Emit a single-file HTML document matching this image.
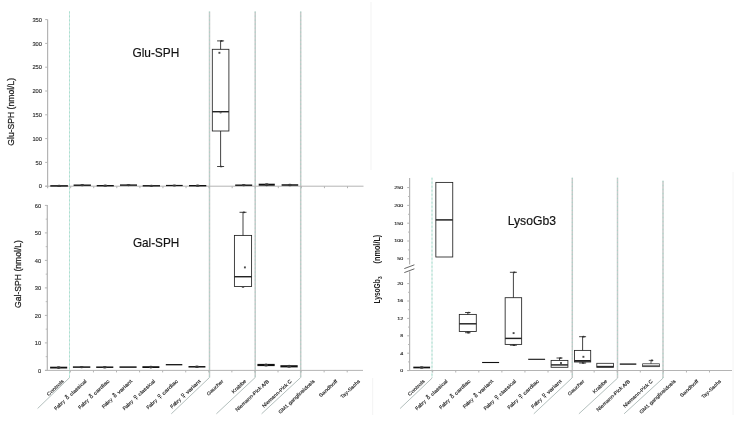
<!DOCTYPE html>
<html><head><meta charset="utf-8"><title>Chart</title>
<style>html,body{margin:0;padding:0;background:#fff;font-family:"Liberation Sans",sans-serif;}svg{display:block;filter:blur(0.35px);}</style></head>
<body>
<svg width="750" height="421" viewBox="0 0 750 421" font-family="'Liberation Sans', sans-serif">
<rect width="750" height="421" fill="#fff"/>
<line x1="371.00" y1="2.00" x2="371.00" y2="170.00" stroke="#f3f3f3" stroke-width="1" />
<line x1="372.70" y1="378.00" x2="372.70" y2="415.00" stroke="#f3f3f3" stroke-width="1" />
<line x1="733.00" y1="172.00" x2="733.00" y2="415.00" stroke="#f4f4f4" stroke-width="1" />
<line x1="69.50" y1="11.40" x2="69.50" y2="377.50" stroke="#d9ebe6" stroke-width="1.0" />
<line x1="69.50" y1="11.40" x2="69.50" y2="377.50" stroke="#a9e0d0" stroke-width="1.0" stroke-dasharray="2 2"/>
<line x1="209.50" y1="11.40" x2="209.50" y2="377.50" stroke="#c9c9c9" stroke-width="1.5" />
<line x1="209.50" y1="11.40" x2="209.50" y2="377.50" stroke="#8fdcc6" stroke-width="1.1" stroke-dasharray="1.4 2.6" opacity="0.55"/>
<line x1="255.20" y1="11.40" x2="255.20" y2="377.50" stroke="#c9c9c9" stroke-width="1.5" />
<line x1="255.20" y1="11.40" x2="255.20" y2="377.50" stroke="#8fdcc6" stroke-width="1.1" stroke-dasharray="1.4 2.6" opacity="0.55"/>
<line x1="300.70" y1="11.40" x2="300.70" y2="377.50" stroke="#c9c9c9" stroke-width="1.5" />
<line x1="300.70" y1="11.40" x2="300.70" y2="377.50" stroke="#8fdcc6" stroke-width="1.1" stroke-dasharray="1.4 2.6" opacity="0.55"/>
<line x1="69.70" y1="377.50" x2="37.60" y2="408.50" stroke="#b3bfbd" stroke-width="1.0" />
<line x1="209.50" y1="377.50" x2="171.30" y2="413.80" stroke="#b3bfbd" stroke-width="1.0" />
<line x1="255.20" y1="377.50" x2="216.40" y2="413.80" stroke="#b3bfbd" stroke-width="1.0" />
<line x1="300.70" y1="377.50" x2="261.60" y2="413.80" stroke="#b3bfbd" stroke-width="1.0" />
<line x1="432.00" y1="177.70" x2="432.00" y2="378.00" stroke="#d9ebe6" stroke-width="1.0" />
<line x1="432.00" y1="177.70" x2="432.00" y2="378.00" stroke="#a9e0d0" stroke-width="1.0" stroke-dasharray="2 2"/>
<line x1="572.30" y1="177.70" x2="572.30" y2="378.00" stroke="#c9c9c9" stroke-width="1.5" />
<line x1="572.30" y1="177.70" x2="572.30" y2="378.00" stroke="#8fdcc6" stroke-width="1.1" stroke-dasharray="1.4 2.6" opacity="0.55"/>
<line x1="617.50" y1="177.70" x2="617.50" y2="378.00" stroke="#c9c9c9" stroke-width="1.5" />
<line x1="617.50" y1="177.70" x2="617.50" y2="378.00" stroke="#8fdcc6" stroke-width="1.1" stroke-dasharray="1.4 2.6" opacity="0.55"/>
<line x1="663.00" y1="180.80" x2="663.00" y2="378.00" stroke="#c9c9c9" stroke-width="1.5" />
<line x1="663.00" y1="180.80" x2="663.00" y2="378.00" stroke="#8fdcc6" stroke-width="1.1" stroke-dasharray="1.4 2.6" opacity="0.55"/>
<line x1="432.20" y1="378.00" x2="400.10" y2="408.50" stroke="#b3bfbd" stroke-width="1.0" />
<line x1="572.00" y1="378.00" x2="533.80" y2="413.80" stroke="#b3bfbd" stroke-width="1.0" />
<line x1="617.70" y1="378.00" x2="578.90" y2="413.80" stroke="#b3bfbd" stroke-width="1.0" />
<line x1="663.20" y1="378.00" x2="624.10" y2="413.80" stroke="#b3bfbd" stroke-width="1.0" />
<line x1="47.60" y1="19.50" x2="47.60" y2="188.20" stroke="#b4b4b4" stroke-width="1.2" />
<line x1="45.20" y1="186.20" x2="47.60" y2="186.20" stroke="#b4b4b4" stroke-width="1" />
<line x1="45.20" y1="162.40" x2="47.60" y2="162.40" stroke="#b4b4b4" stroke-width="1" />
<line x1="45.20" y1="138.60" x2="47.60" y2="138.60" stroke="#b4b4b4" stroke-width="1" />
<line x1="45.20" y1="114.80" x2="47.60" y2="114.80" stroke="#b4b4b4" stroke-width="1" />
<line x1="45.20" y1="91.00" x2="47.60" y2="91.00" stroke="#b4b4b4" stroke-width="1" />
<line x1="45.20" y1="67.20" x2="47.60" y2="67.20" stroke="#b4b4b4" stroke-width="1" />
<line x1="45.20" y1="43.40" x2="47.60" y2="43.40" stroke="#b4b4b4" stroke-width="1" />
<line x1="45.20" y1="19.60" x2="47.60" y2="19.60" stroke="#b4b4b4" stroke-width="1" />
<line x1="45.40" y1="186.20" x2="363.50" y2="186.20" stroke="#b4b4b4" stroke-width="1.0" />
<line x1="70.67" y1="186.20" x2="70.67" y2="188.20" stroke="#b4b4b4" stroke-width="1" />
<line x1="93.74" y1="186.20" x2="93.74" y2="188.20" stroke="#b4b4b4" stroke-width="1" />
<line x1="116.81" y1="186.20" x2="116.81" y2="188.20" stroke="#b4b4b4" stroke-width="1" />
<line x1="139.88" y1="186.20" x2="139.88" y2="188.20" stroke="#b4b4b4" stroke-width="1" />
<line x1="162.95" y1="186.20" x2="162.95" y2="188.20" stroke="#b4b4b4" stroke-width="1" />
<line x1="186.02" y1="186.20" x2="186.02" y2="188.20" stroke="#b4b4b4" stroke-width="1" />
<line x1="209.09" y1="186.20" x2="209.09" y2="188.20" stroke="#b4b4b4" stroke-width="1" />
<line x1="232.16" y1="186.20" x2="232.16" y2="188.20" stroke="#b4b4b4" stroke-width="1" />
<line x1="255.23" y1="186.20" x2="255.23" y2="188.20" stroke="#b4b4b4" stroke-width="1" />
<line x1="278.30" y1="186.20" x2="278.30" y2="188.20" stroke="#b4b4b4" stroke-width="1" />
<line x1="301.37" y1="186.20" x2="301.37" y2="188.20" stroke="#b4b4b4" stroke-width="1" />
<line x1="324.44" y1="186.20" x2="324.44" y2="188.20" stroke="#b4b4b4" stroke-width="1" />
<line x1="347.51" y1="186.20" x2="347.51" y2="188.20" stroke="#b4b4b4" stroke-width="1" />
<text x="42.00" y="188.40" font-size="5.4" text-anchor="end" fill="#2a2a2a" textLength="3.20" lengthAdjust="spacingAndGlyphs"  stroke="#2a2a2a" stroke-width="0.12">0</text>
<text x="42.00" y="164.60" font-size="5.4" text-anchor="end" fill="#2a2a2a" textLength="6.40" lengthAdjust="spacingAndGlyphs"  stroke="#2a2a2a" stroke-width="0.12">50</text>
<text x="42.00" y="140.80" font-size="5.4" text-anchor="end" fill="#2a2a2a" textLength="9.60" lengthAdjust="spacingAndGlyphs"  stroke="#2a2a2a" stroke-width="0.12">100</text>
<text x="42.00" y="117.00" font-size="5.4" text-anchor="end" fill="#2a2a2a" textLength="9.60" lengthAdjust="spacingAndGlyphs"  stroke="#2a2a2a" stroke-width="0.12">150</text>
<text x="42.00" y="93.20" font-size="5.4" text-anchor="end" fill="#2a2a2a" textLength="9.60" lengthAdjust="spacingAndGlyphs"  stroke="#2a2a2a" stroke-width="0.12">200</text>
<text x="42.00" y="69.40" font-size="5.4" text-anchor="end" fill="#2a2a2a" textLength="9.60" lengthAdjust="spacingAndGlyphs"  stroke="#2a2a2a" stroke-width="0.12">250</text>
<text x="42.00" y="45.60" font-size="5.4" text-anchor="end" fill="#2a2a2a" textLength="9.60" lengthAdjust="spacingAndGlyphs"  stroke="#2a2a2a" stroke-width="0.12">300</text>
<text x="42.00" y="21.80" font-size="5.4" text-anchor="end" fill="#2a2a2a" textLength="9.60" lengthAdjust="spacingAndGlyphs"  stroke="#2a2a2a" stroke-width="0.12">350</text>
<g transform="translate(14.4,111.8) rotate(-90)">
<text x="0.00" y="0.00" font-size="9.4" text-anchor="middle" fill="#1c1c1c" textLength="67.80" lengthAdjust="spacingAndGlyphs"  stroke="#1c1c1c" stroke-width="0.25">Glu-SPH (nmol/L)</text>
</g>
<text x="132.40" y="57.40" font-size="13.4" text-anchor="start" fill="#111" textLength="46.90" lengthAdjust="spacingAndGlyphs"  stroke="#111" stroke-width="0.18">Glu-SPH</text>
<line x1="50.30" y1="185.90" x2="67.90" y2="185.90" stroke="#111" stroke-width="1.5" />
<ellipse cx="59.10" cy="185.90" rx="2.0" ry="1.20" fill="#3a3a3a"/>
<line x1="73.60" y1="185.20" x2="90.90" y2="185.20" stroke="#111" stroke-width="1.4" />
<ellipse cx="82.25" cy="185.20" rx="2.0" ry="1.15" fill="#3a3a3a"/>
<line x1="96.70" y1="185.70" x2="113.80" y2="185.70" stroke="#111" stroke-width="1.4" />
<ellipse cx="105.25" cy="185.70" rx="2.0" ry="1.15" fill="#3a3a3a"/>
<line x1="120.00" y1="185.10" x2="137.00" y2="185.10" stroke="#111" stroke-width="1.4" />
<ellipse cx="128.50" cy="185.10" rx="2.0" ry="1.15" fill="#3a3a3a"/>
<line x1="142.70" y1="185.80" x2="160.00" y2="185.80" stroke="#111" stroke-width="1.4" />
<ellipse cx="151.35" cy="185.80" rx="2.0" ry="1.15" fill="#3a3a3a"/>
<line x1="166.00" y1="185.50" x2="182.70" y2="185.50" stroke="#111" stroke-width="1.2" />
<ellipse cx="174.35" cy="185.50" rx="2.0" ry="1.05" fill="#3a3a3a"/>
<line x1="189.00" y1="185.70" x2="206.30" y2="185.70" stroke="#111" stroke-width="1.4" />
<ellipse cx="197.65" cy="185.70" rx="2.0" ry="1.15" fill="#3a3a3a"/>
<rect x="212.30" y="49.30" width="16.60" height="81.70" fill="#fff" stroke="#222" stroke-width="0.85"/>
<line x1="212.30" y1="111.70" x2="228.90" y2="111.70" stroke="#222" stroke-width="1.45" />
<line x1="220.60" y1="40.90" x2="220.60" y2="49.30" stroke="#222" stroke-width="0.85" />
<line x1="217.10" y1="40.90" x2="224.10" y2="40.90" stroke="#222" stroke-width="0.85" />
<ellipse cx="221.50" cy="40.90" rx="1.3" ry="0.85" fill="#333"/>
<line x1="220.60" y1="131.00" x2="220.60" y2="166.50" stroke="#222" stroke-width="0.85" />
<line x1="217.10" y1="166.50" x2="224.10" y2="166.50" stroke="#222" stroke-width="0.85" />
<ellipse cx="221.20" cy="166.50" rx="1.3" ry="0.85" fill="#333"/>
<rect x="218.45" y="51.85" width="1.9" height="1.9" fill="#4a4a4a"/>
<ellipse cx="220.6" cy="112.6" rx="1.2" ry="0.9" fill="#666"/>
<line x1="235.20" y1="185.20" x2="252.20" y2="185.20" stroke="#111" stroke-width="1.4" />
<ellipse cx="243.70" cy="185.20" rx="2.0" ry="1.15" fill="#3a3a3a"/>
<line x1="258.70" y1="184.70" x2="274.80" y2="184.70" stroke="#111" stroke-width="2.0" />
<ellipse cx="266.75" cy="184.70" rx="2.0" ry="1.45" fill="#3a3a3a"/>
<line x1="281.60" y1="185.00" x2="298.20" y2="185.00" stroke="#111" stroke-width="1.5" />
<ellipse cx="289.90" cy="185.00" rx="2.0" ry="1.20" fill="#3a3a3a"/>
<line x1="47.30" y1="205.00" x2="47.30" y2="370.40" stroke="#b4b4b4" stroke-width="1.2" />
<line x1="44.90" y1="370.40" x2="47.30" y2="370.40" stroke="#b4b4b4" stroke-width="1" />
<line x1="44.90" y1="342.90" x2="47.30" y2="342.90" stroke="#b4b4b4" stroke-width="1" />
<line x1="44.90" y1="315.40" x2="47.30" y2="315.40" stroke="#b4b4b4" stroke-width="1" />
<line x1="44.90" y1="287.90" x2="47.30" y2="287.90" stroke="#b4b4b4" stroke-width="1" />
<line x1="44.90" y1="260.40" x2="47.30" y2="260.40" stroke="#b4b4b4" stroke-width="1" />
<line x1="44.90" y1="232.90" x2="47.30" y2="232.90" stroke="#b4b4b4" stroke-width="1" />
<line x1="44.90" y1="205.40" x2="47.30" y2="205.40" stroke="#b4b4b4" stroke-width="1" />
<line x1="45.70" y1="356.65" x2="47.30" y2="356.65" stroke="#b4b4b4" stroke-width="0.9" />
<line x1="45.70" y1="329.15" x2="47.30" y2="329.15" stroke="#b4b4b4" stroke-width="0.9" />
<line x1="45.70" y1="301.65" x2="47.30" y2="301.65" stroke="#b4b4b4" stroke-width="0.9" />
<line x1="45.70" y1="274.15" x2="47.30" y2="274.15" stroke="#b4b4b4" stroke-width="0.9" />
<line x1="45.70" y1="246.65" x2="47.30" y2="246.65" stroke="#b4b4b4" stroke-width="0.9" />
<line x1="45.70" y1="219.15" x2="47.30" y2="219.15" stroke="#b4b4b4" stroke-width="0.9" />
<line x1="45.10" y1="370.40" x2="363.00" y2="370.40" stroke="#b4b4b4" stroke-width="1.0" />
<line x1="70.37" y1="370.40" x2="70.37" y2="372.40" stroke="#b4b4b4" stroke-width="1" />
<line x1="93.44" y1="370.40" x2="93.44" y2="372.40" stroke="#b4b4b4" stroke-width="1" />
<line x1="116.51" y1="370.40" x2="116.51" y2="372.40" stroke="#b4b4b4" stroke-width="1" />
<line x1="139.58" y1="370.40" x2="139.58" y2="372.40" stroke="#b4b4b4" stroke-width="1" />
<line x1="162.65" y1="370.40" x2="162.65" y2="372.40" stroke="#b4b4b4" stroke-width="1" />
<line x1="185.72" y1="370.40" x2="185.72" y2="372.40" stroke="#b4b4b4" stroke-width="1" />
<line x1="208.79" y1="370.40" x2="208.79" y2="372.40" stroke="#b4b4b4" stroke-width="1" />
<line x1="231.86" y1="370.40" x2="231.86" y2="372.40" stroke="#b4b4b4" stroke-width="1" />
<line x1="254.93" y1="370.40" x2="254.93" y2="372.40" stroke="#b4b4b4" stroke-width="1" />
<line x1="278.00" y1="370.40" x2="278.00" y2="372.40" stroke="#b4b4b4" stroke-width="1" />
<line x1="301.07" y1="370.40" x2="301.07" y2="372.40" stroke="#b4b4b4" stroke-width="1" />
<line x1="324.14" y1="370.40" x2="324.14" y2="372.40" stroke="#b4b4b4" stroke-width="1" />
<line x1="347.21" y1="370.40" x2="347.21" y2="372.40" stroke="#b4b4b4" stroke-width="1" />
<text x="41.20" y="372.60" font-size="5.4" text-anchor="end" fill="#2a2a2a" textLength="3.20" lengthAdjust="spacingAndGlyphs"  stroke="#2a2a2a" stroke-width="0.12">0</text>
<text x="41.20" y="345.10" font-size="5.4" text-anchor="end" fill="#2a2a2a" textLength="6.40" lengthAdjust="spacingAndGlyphs"  stroke="#2a2a2a" stroke-width="0.12">10</text>
<text x="41.20" y="317.60" font-size="5.4" text-anchor="end" fill="#2a2a2a" textLength="6.40" lengthAdjust="spacingAndGlyphs"  stroke="#2a2a2a" stroke-width="0.12">20</text>
<text x="41.20" y="290.10" font-size="5.4" text-anchor="end" fill="#2a2a2a" textLength="6.40" lengthAdjust="spacingAndGlyphs"  stroke="#2a2a2a" stroke-width="0.12">30</text>
<text x="41.20" y="262.60" font-size="5.4" text-anchor="end" fill="#2a2a2a" textLength="6.40" lengthAdjust="spacingAndGlyphs"  stroke="#2a2a2a" stroke-width="0.12">40</text>
<text x="41.20" y="235.10" font-size="5.4" text-anchor="end" fill="#2a2a2a" textLength="6.40" lengthAdjust="spacingAndGlyphs"  stroke="#2a2a2a" stroke-width="0.12">50</text>
<text x="41.20" y="207.60" font-size="5.4" text-anchor="end" fill="#2a2a2a" textLength="6.40" lengthAdjust="spacingAndGlyphs"  stroke="#2a2a2a" stroke-width="0.12">60</text>
<g transform="translate(20.8,274) rotate(-90)">
<text x="0.00" y="0.00" font-size="9.4" text-anchor="middle" fill="#1c1c1c" textLength="67.80" lengthAdjust="spacingAndGlyphs"  stroke="#1c1c1c" stroke-width="0.25">Gal-SPH (nmol/L)</text>
</g>
<text x="132.90" y="246.70" font-size="13.4" text-anchor="start" fill="#111" textLength="46.40" lengthAdjust="spacingAndGlyphs"  stroke="#111" stroke-width="0.18">Gal-SPH</text>
<line x1="50.10" y1="367.60" x2="67.20" y2="367.60" stroke="#111" stroke-width="1.8" />
<ellipse cx="58.65" cy="367.60" rx="2.0" ry="1.35" fill="#3a3a3a"/>
<line x1="72.90" y1="367.10" x2="90.30" y2="367.10" stroke="#111" stroke-width="1.5" />
<ellipse cx="81.60" cy="367.10" rx="2.0" ry="1.20" fill="#3a3a3a"/>
<line x1="96.20" y1="367.20" x2="113.30" y2="367.20" stroke="#111" stroke-width="1.5" />
<ellipse cx="104.75" cy="367.20" rx="2.0" ry="1.20" fill="#3a3a3a"/>
<line x1="119.50" y1="367.10" x2="136.60" y2="367.10" stroke="#111" stroke-width="1.5" />
<line x1="142.40" y1="367.10" x2="159.40" y2="367.10" stroke="#111" stroke-width="1.8" />
<ellipse cx="150.90" cy="367.10" rx="2.0" ry="1.35" fill="#3a3a3a"/>
<line x1="165.80" y1="364.70" x2="182.30" y2="364.70" stroke="#111" stroke-width="1.3" />
<line x1="188.50" y1="366.80" x2="205.40" y2="366.80" stroke="#111" stroke-width="1.5" />
<ellipse cx="196.95" cy="366.80" rx="2.0" ry="1.20" fill="#3a3a3a"/>
<rect x="234.40" y="235.40" width="17.20" height="51.10" fill="#fff" stroke="#222" stroke-width="0.85"/>
<line x1="234.40" y1="276.70" x2="251.60" y2="276.70" stroke="#222" stroke-width="1.45" />
<line x1="243.00" y1="212.30" x2="243.00" y2="235.40" stroke="#222" stroke-width="0.85" />
<line x1="239.50" y1="212.30" x2="246.50" y2="212.30" stroke="#222" stroke-width="0.85" />
<ellipse cx="243.90" cy="212.30" rx="1.3" ry="0.85" fill="#333"/>
<rect x="243.95" y="266.45" width="1.9" height="1.9" fill="#4a4a4a"/>
<ellipse cx="243" cy="286.9" rx="1.3" ry="0.9" fill="#444"/>
<line x1="257.40" y1="365.00" x2="274.70" y2="365.00" stroke="#111" stroke-width="2.2" />
<ellipse cx="266.05" cy="365.00" rx="2.0" ry="1.55" fill="#3a3a3a"/>
<line x1="280.40" y1="366.30" x2="297.70" y2="366.30" stroke="#111" stroke-width="2.2" />
<ellipse cx="289.05" cy="366.30" rx="2.0" ry="1.55" fill="#3a3a3a"/>
<g transform="translate(63.20,380.60) rotate(-43)">
<text x="0.00" y="1.45" font-size="4.9" text-anchor="end" fill="#2a2a2a" textLength="21.30" lengthAdjust="spacingAndGlyphs"  stroke="#2a2a2a" stroke-width="0.16">Controls</text>
</g>
<g transform="translate(86.00,380.60) rotate(-43)">
<text x="0.00" y="1.45" font-size="4.9" text-anchor="end" fill="#2a2a2a" textLength="21.30" lengthAdjust="spacingAndGlyphs"  stroke="#2a2a2a" stroke-width="0.16">classical</text>
<g transform="translate(-26.70,1.50) scale(0.9)" fill="none" stroke="#2a2a2a" stroke-width="0.85"><circle cx="1.7" cy="-1.6" r="1.3"/><path d="M1.7,-3 L1.7,-5.2 M0.5,-4.2 L1.7,-5.4 L2.9,-4.2"/></g>
<text x="-42.30" y="1.45" font-size="4.9" text-anchor="start" fill="#2a2a2a" textLength="12.60" lengthAdjust="spacingAndGlyphs"  stroke="#2a2a2a" stroke-width="0.16">Fabry</text>
</g>
<g transform="translate(108.80,380.60) rotate(-43)">
<text x="0.00" y="1.45" font-size="4.9" text-anchor="end" fill="#2a2a2a" textLength="19.80" lengthAdjust="spacingAndGlyphs"  stroke="#2a2a2a" stroke-width="0.16">cardiac</text>
<g transform="translate(-25.20,1.50) scale(0.9)" fill="none" stroke="#2a2a2a" stroke-width="0.85"><circle cx="1.7" cy="-1.6" r="1.3"/><path d="M1.7,-3 L1.7,-5.2 M0.5,-4.2 L1.7,-5.4 L2.9,-4.2"/></g>
<text x="-40.80" y="1.45" font-size="4.9" text-anchor="start" fill="#2a2a2a" textLength="12.60" lengthAdjust="spacingAndGlyphs"  stroke="#2a2a2a" stroke-width="0.16">Fabry</text>
</g>
<g transform="translate(131.60,380.60) rotate(-43)">
<text x="0.00" y="1.45" font-size="4.9" text-anchor="end" fill="#2a2a2a" textLength="18.60" lengthAdjust="spacingAndGlyphs"  stroke="#2a2a2a" stroke-width="0.16">variant</text>
<g transform="translate(-24.00,1.50) scale(0.9)" fill="none" stroke="#2a2a2a" stroke-width="0.85"><circle cx="1.7" cy="-1.6" r="1.3"/><path d="M1.7,-3 L1.7,-5.2 M0.5,-4.2 L1.7,-5.4 L2.9,-4.2"/></g>
<text x="-39.60" y="1.45" font-size="4.9" text-anchor="start" fill="#2a2a2a" textLength="12.60" lengthAdjust="spacingAndGlyphs"  stroke="#2a2a2a" stroke-width="0.16">Fabry</text>
</g>
<g transform="translate(154.40,380.60) rotate(-43)">
<text x="0.00" y="1.45" font-size="4.9" text-anchor="end" fill="#2a2a2a" textLength="21.30" lengthAdjust="spacingAndGlyphs"  stroke="#2a2a2a" stroke-width="0.16">classical</text>
<g transform="translate(-26.70,1.50) scale(0.9)" fill="none" stroke="#2a2a2a" stroke-width="0.85"><circle cx="1.7" cy="-3.4" r="1.3"/><path d="M1.7,-2 L1.7,0.8 M0.5,-0.5 L2.9,-0.5"/></g>
<text x="-42.30" y="1.45" font-size="4.9" text-anchor="start" fill="#2a2a2a" textLength="12.60" lengthAdjust="spacingAndGlyphs"  stroke="#2a2a2a" stroke-width="0.16">Fabry</text>
</g>
<g transform="translate(177.20,380.60) rotate(-43)">
<text x="0.00" y="1.45" font-size="4.9" text-anchor="end" fill="#2a2a2a" textLength="19.80" lengthAdjust="spacingAndGlyphs"  stroke="#2a2a2a" stroke-width="0.16">cardiac</text>
<g transform="translate(-25.20,1.50) scale(0.9)" fill="none" stroke="#2a2a2a" stroke-width="0.85"><circle cx="1.7" cy="-3.4" r="1.3"/><path d="M1.7,-2 L1.7,0.8 M0.5,-0.5 L2.9,-0.5"/></g>
<text x="-40.80" y="1.45" font-size="4.9" text-anchor="start" fill="#2a2a2a" textLength="12.60" lengthAdjust="spacingAndGlyphs"  stroke="#2a2a2a" stroke-width="0.16">Fabry</text>
</g>
<g transform="translate(200.00,380.60) rotate(-43)">
<text x="0.00" y="1.45" font-size="4.9" text-anchor="end" fill="#2a2a2a" textLength="18.60" lengthAdjust="spacingAndGlyphs"  stroke="#2a2a2a" stroke-width="0.16">variant</text>
<g transform="translate(-24.00,1.50) scale(0.9)" fill="none" stroke="#2a2a2a" stroke-width="0.85"><circle cx="1.7" cy="-3.4" r="1.3"/><path d="M1.7,-2 L1.7,0.8 M0.5,-0.5 L2.9,-0.5"/></g>
<text x="-39.60" y="1.45" font-size="4.9" text-anchor="start" fill="#2a2a2a" textLength="12.60" lengthAdjust="spacingAndGlyphs"  stroke="#2a2a2a" stroke-width="0.16">Fabry</text>
</g>
<g transform="translate(222.80,380.60) rotate(-43)">
<text x="0.00" y="1.45" font-size="4.9" text-anchor="end" fill="#2a2a2a" textLength="21.00" lengthAdjust="spacingAndGlyphs"  stroke="#2a2a2a" stroke-width="0.16">Gaucher</text>
</g>
<g transform="translate(245.60,380.60) rotate(-43)">
<text x="0.00" y="1.45" font-size="4.9" text-anchor="end" fill="#2a2a2a" textLength="17.80" lengthAdjust="spacingAndGlyphs"  stroke="#2a2a2a" stroke-width="0.16">Krabbe</text>
</g>
<g transform="translate(268.40,380.60) rotate(-43)">
<text x="0.00" y="1.45" font-size="4.9" text-anchor="end" fill="#2a2a2a" textLength="44.00" lengthAdjust="spacingAndGlyphs"  stroke="#2a2a2a" stroke-width="0.16">Niemann-Pick A/B</text>
</g>
<g transform="translate(291.20,380.60) rotate(-43)">
<text x="0.00" y="1.45" font-size="4.9" text-anchor="end" fill="#2a2a2a" textLength="38.60" lengthAdjust="spacingAndGlyphs"  stroke="#2a2a2a" stroke-width="0.16">Niemann-Pick C</text>
</g>
<g transform="translate(314.00,380.60) rotate(-43)">
<text x="0.00" y="1.45" font-size="4.9" text-anchor="end" fill="#2a2a2a" textLength="47.60" lengthAdjust="spacingAndGlyphs"  stroke="#2a2a2a" stroke-width="0.16">GM1 gangliosidosis</text>
</g>
<g transform="translate(336.80,380.60) rotate(-43)">
<text x="0.00" y="1.45" font-size="4.9" text-anchor="end" fill="#2a2a2a" textLength="23.30" lengthAdjust="spacingAndGlyphs"  stroke="#2a2a2a" stroke-width="0.16">Sandhoff</text>
</g>
<g transform="translate(359.60,380.60) rotate(-43)">
<text x="0.00" y="1.45" font-size="4.9" text-anchor="end" fill="#2a2a2a" textLength="25.00" lengthAdjust="spacingAndGlyphs"  stroke="#2a2a2a" stroke-width="0.16">Tay-Sachs</text>
</g>
<line x1="409.60" y1="177.90" x2="409.60" y2="370.40" stroke="#b4b4b4" stroke-width="1.2" />
<line x1="407.20" y1="187.60" x2="409.60" y2="187.60" stroke="#b4b4b4" stroke-width="1" />
<g transform="translate(403.3,188.95) scale(1,0.76)">
<text x="0.00" y="0.00" font-size="5.2" text-anchor="end" fill="#222" textLength="9.00" lengthAdjust="spacingAndGlyphs"  stroke="#222" stroke-width="0.15">250</text>
</g>
<line x1="407.20" y1="205.40" x2="409.60" y2="205.40" stroke="#b4b4b4" stroke-width="1" />
<g transform="translate(403.3,206.75) scale(1,0.76)">
<text x="0.00" y="0.00" font-size="5.2" text-anchor="end" fill="#222" textLength="9.00" lengthAdjust="spacingAndGlyphs"  stroke="#222" stroke-width="0.15">200</text>
</g>
<line x1="407.20" y1="223.20" x2="409.60" y2="223.20" stroke="#b4b4b4" stroke-width="1" />
<g transform="translate(403.3,224.55) scale(1,0.76)">
<text x="0.00" y="0.00" font-size="5.2" text-anchor="end" fill="#222" textLength="9.00" lengthAdjust="spacingAndGlyphs"  stroke="#222" stroke-width="0.15">150</text>
</g>
<line x1="407.20" y1="241.00" x2="409.60" y2="241.00" stroke="#b4b4b4" stroke-width="1" />
<g transform="translate(403.3,242.35) scale(1,0.76)">
<text x="0.00" y="0.00" font-size="5.2" text-anchor="end" fill="#222" textLength="9.00" lengthAdjust="spacingAndGlyphs"  stroke="#222" stroke-width="0.15">100</text>
</g>
<line x1="407.20" y1="258.80" x2="409.60" y2="258.80" stroke="#b4b4b4" stroke-width="1" />
<g transform="translate(403.3,260.15) scale(1,0.76)">
<text x="0.00" y="0.00" font-size="5.2" text-anchor="end" fill="#222" textLength="6.00" lengthAdjust="spacingAndGlyphs"  stroke="#222" stroke-width="0.15">50</text>
</g>
<line x1="408.00" y1="196.50" x2="409.60" y2="196.50" stroke="#b4b4b4" stroke-width="0.9" />
<line x1="408.00" y1="214.30" x2="409.60" y2="214.30" stroke="#b4b4b4" stroke-width="0.9" />
<line x1="408.00" y1="232.10" x2="409.60" y2="232.10" stroke="#b4b4b4" stroke-width="0.9" />
<line x1="408.00" y1="249.90" x2="409.60" y2="249.90" stroke="#b4b4b4" stroke-width="0.9" />
<line x1="407.20" y1="370.60" x2="409.60" y2="370.60" stroke="#b4b4b4" stroke-width="1" />
<g transform="translate(403.3,371.95) scale(1,0.76)">
<text x="0.00" y="0.00" font-size="5.2" text-anchor="end" fill="#222" textLength="3.00" lengthAdjust="spacingAndGlyphs"  stroke="#222" stroke-width="0.15">0</text>
</g>
<line x1="407.20" y1="353.20" x2="409.60" y2="353.20" stroke="#b4b4b4" stroke-width="1" />
<g transform="translate(403.3,354.55) scale(1,0.76)">
<text x="0.00" y="0.00" font-size="5.2" text-anchor="end" fill="#222" textLength="3.00" lengthAdjust="spacingAndGlyphs"  stroke="#222" stroke-width="0.15">4</text>
</g>
<line x1="407.20" y1="335.80" x2="409.60" y2="335.80" stroke="#b4b4b4" stroke-width="1" />
<g transform="translate(403.3,337.15) scale(1,0.76)">
<text x="0.00" y="0.00" font-size="5.2" text-anchor="end" fill="#222" textLength="3.00" lengthAdjust="spacingAndGlyphs"  stroke="#222" stroke-width="0.15">8</text>
</g>
<line x1="407.20" y1="318.40" x2="409.60" y2="318.40" stroke="#b4b4b4" stroke-width="1" />
<g transform="translate(403.3,319.75) scale(1,0.76)">
<text x="0.00" y="0.00" font-size="5.2" text-anchor="end" fill="#222" textLength="6.00" lengthAdjust="spacingAndGlyphs"  stroke="#222" stroke-width="0.15">12</text>
</g>
<line x1="407.20" y1="301.00" x2="409.60" y2="301.00" stroke="#b4b4b4" stroke-width="1" />
<g transform="translate(403.3,302.35) scale(1,0.76)">
<text x="0.00" y="0.00" font-size="5.2" text-anchor="end" fill="#222" textLength="6.00" lengthAdjust="spacingAndGlyphs"  stroke="#222" stroke-width="0.15">16</text>
</g>
<line x1="407.20" y1="283.60" x2="409.60" y2="283.60" stroke="#b4b4b4" stroke-width="1" />
<g transform="translate(403.3,284.95) scale(1,0.76)">
<text x="0.00" y="0.00" font-size="5.2" text-anchor="end" fill="#222" textLength="6.00" lengthAdjust="spacingAndGlyphs"  stroke="#222" stroke-width="0.15">20</text>
</g>
<line x1="408.00" y1="361.90" x2="409.60" y2="361.90" stroke="#b4b4b4" stroke-width="0.9" />
<line x1="408.00" y1="344.50" x2="409.60" y2="344.50" stroke="#b4b4b4" stroke-width="0.9" />
<line x1="408.00" y1="327.10" x2="409.60" y2="327.10" stroke="#b4b4b4" stroke-width="0.9" />
<line x1="408.00" y1="309.70" x2="409.60" y2="309.70" stroke="#b4b4b4" stroke-width="0.9" />
<line x1="408.00" y1="292.30" x2="409.60" y2="292.30" stroke="#b4b4b4" stroke-width="0.9" />
<rect x="408.1" y="264.5" width="3" height="7" fill="#fff"/>
<line x1="404.30" y1="268.60" x2="414.40" y2="264.80" stroke="#555" stroke-width="0.9" />
<line x1="404.30" y1="272.60" x2="414.40" y2="268.80" stroke="#555" stroke-width="0.9" />
<line x1="407.40" y1="370.50" x2="732.00" y2="370.50" stroke="#b4b4b4" stroke-width="1.0" />
<line x1="432.67" y1="370.50" x2="432.67" y2="372.50" stroke="#b4b4b4" stroke-width="1" />
<line x1="455.74" y1="370.50" x2="455.74" y2="372.50" stroke="#b4b4b4" stroke-width="1" />
<line x1="478.81" y1="370.50" x2="478.81" y2="372.50" stroke="#b4b4b4" stroke-width="1" />
<line x1="501.88" y1="370.50" x2="501.88" y2="372.50" stroke="#b4b4b4" stroke-width="1" />
<line x1="524.95" y1="370.50" x2="524.95" y2="372.50" stroke="#b4b4b4" stroke-width="1" />
<line x1="548.02" y1="370.50" x2="548.02" y2="372.50" stroke="#b4b4b4" stroke-width="1" />
<line x1="571.09" y1="370.50" x2="571.09" y2="372.50" stroke="#b4b4b4" stroke-width="1" />
<line x1="594.16" y1="370.50" x2="594.16" y2="372.50" stroke="#b4b4b4" stroke-width="1" />
<line x1="617.23" y1="370.50" x2="617.23" y2="372.50" stroke="#b4b4b4" stroke-width="1" />
<line x1="640.30" y1="370.50" x2="640.30" y2="372.50" stroke="#b4b4b4" stroke-width="1" />
<line x1="663.37" y1="370.50" x2="663.37" y2="372.50" stroke="#b4b4b4" stroke-width="1" />
<line x1="686.44" y1="370.50" x2="686.44" y2="372.50" stroke="#b4b4b4" stroke-width="1" />
<line x1="709.51" y1="370.50" x2="709.51" y2="372.50" stroke="#b4b4b4" stroke-width="1" />
<g transform="translate(380.4,303.6) rotate(-90)">
<text x="0.00" y="0.00" font-size="8.6" text-anchor="start" fill="#1c1c1c" textLength="24.40" lengthAdjust="spacingAndGlyphs" font-weight="bold" >LysoGb</text>
<text x="24.60" y="1.50" font-size="5" text-anchor="start" fill="#1c1c1c" textLength="2.60" lengthAdjust="spacingAndGlyphs" font-weight="bold" >3</text>
<text x="40.20" y="0.00" font-size="8.6" text-anchor="start" fill="#1c1c1c" textLength="28.70" lengthAdjust="spacingAndGlyphs" font-weight="bold" >(nmol/L)</text>
</g>
<text x="507.70" y="224.60" font-size="13.4" text-anchor="start" fill="#111" textLength="48.30" lengthAdjust="spacingAndGlyphs"  stroke="#111" stroke-width="0.18">LysoGb3</text>
<line x1="413.30" y1="367.50" x2="430.10" y2="367.50" stroke="#111" stroke-width="1.7" />
<ellipse cx="421.70" cy="367.50" rx="2.0" ry="1.30" fill="#3a3a3a"/>
<rect x="435.85" y="182.40" width="16.90" height="74.60" fill="#fff" stroke="#222" stroke-width="0.85"/>
<line x1="435.85" y1="219.90" x2="452.75" y2="219.90" stroke="#222" stroke-width="1.5" />
<rect x="459.30" y="314.40" width="17.00" height="17.10" fill="#fff" stroke="#222" stroke-width="0.85"/>
<line x1="459.30" y1="323.80" x2="476.30" y2="323.80" stroke="#222" stroke-width="1.45" />
<line x1="467.80" y1="312.50" x2="467.80" y2="314.40" stroke="#222" stroke-width="0.85" />
<line x1="465.05" y1="312.50" x2="470.55" y2="312.50" stroke="#222" stroke-width="0.85" />
<ellipse cx="468.70" cy="312.50" rx="1.3" ry="0.85" fill="#333"/>
<line x1="467.80" y1="331.50" x2="467.80" y2="332.70" stroke="#222" stroke-width="0.85" />
<line x1="465.05" y1="332.70" x2="470.55" y2="332.70" stroke="#222" stroke-width="0.85" />
<ellipse cx="468.40" cy="332.70" rx="1.3" ry="0.85" fill="#333"/>
<line x1="482.10" y1="362.50" x2="499.10" y2="362.50" stroke="#111" stroke-width="1.1" />
<rect x="505.15" y="297.70" width="16.50" height="46.70" fill="#fff" stroke="#222" stroke-width="0.85"/>
<line x1="505.15" y1="338.40" x2="521.65" y2="338.40" stroke="#222" stroke-width="1.45" />
<line x1="513.40" y1="272.30" x2="513.40" y2="297.70" stroke="#222" stroke-width="0.85" />
<line x1="509.90" y1="272.30" x2="516.90" y2="272.30" stroke="#222" stroke-width="0.85" />
<ellipse cx="514.30" cy="272.30" rx="1.3" ry="0.85" fill="#333"/>
<line x1="513.40" y1="344.40" x2="513.40" y2="345.20" stroke="#222" stroke-width="0.85" />
<line x1="509.90" y1="345.20" x2="516.90" y2="345.20" stroke="#222" stroke-width="0.85" />
<ellipse cx="514.00" cy="345.20" rx="1.3" ry="0.85" fill="#333"/>
<rect x="512.65" y="332.15" width="1.9" height="1.9" fill="#4a4a4a"/>
<line x1="528.20" y1="359.30" x2="545.10" y2="359.30" stroke="#111" stroke-width="1.1" />
<rect x="551.10" y="360.40" width="16.80" height="6.90" fill="#fff" stroke="#222" stroke-width="0.85"/>
<line x1="551.10" y1="364.90" x2="567.90" y2="364.90" stroke="#222" stroke-width="1.45" />
<line x1="559.50" y1="358.00" x2="559.50" y2="360.40" stroke="#222" stroke-width="0.85" />
<line x1="556.50" y1="358.00" x2="562.50" y2="358.00" stroke="#222" stroke-width="0.85" />
<ellipse cx="560.40" cy="358.00" rx="1.3" ry="0.85" fill="#333"/>
<rect x="560.05" y="362.05" width="1.9" height="1.9" fill="#4a4a4a"/>
<rect x="574.50" y="350.40" width="16.20" height="11.60" fill="#fff" stroke="#222" stroke-width="0.85"/>
<line x1="574.50" y1="360.90" x2="590.70" y2="360.90" stroke="#222" stroke-width="1.8" />
<line x1="582.60" y1="336.70" x2="582.60" y2="350.40" stroke="#222" stroke-width="0.85" />
<line x1="579.10" y1="336.70" x2="586.10" y2="336.70" stroke="#222" stroke-width="0.85" />
<ellipse cx="583.50" cy="336.70" rx="1.3" ry="0.85" fill="#333"/>
<line x1="582.60" y1="362.00" x2="582.60" y2="363.00" stroke="#222" stroke-width="0.85" />
<line x1="579.10" y1="363.00" x2="586.10" y2="363.00" stroke="#222" stroke-width="0.85" />
<ellipse cx="583.20" cy="363.00" rx="1.3" ry="0.85" fill="#333"/>
<rect x="582.45" y="355.85" width="1.9" height="1.9" fill="#4a4a4a"/>
<rect x="596.80" y="363.30" width="16.80" height="4.10" fill="#fff" stroke="#222" stroke-width="0.8"/>
<line x1="596.80" y1="366.40" x2="613.60" y2="366.40" stroke="#222" stroke-width="1.1" />
<line x1="619.80" y1="364.10" x2="636.30" y2="364.10" stroke="#111" stroke-width="1.3" />
<rect x="642.65" y="363.80" width="16.70" height="2.90" fill="#fff" stroke="#222" stroke-width="0.7"/>
<line x1="642.65" y1="365.90" x2="659.35" y2="365.90" stroke="#222" stroke-width="0.9" />
<line x1="651.00" y1="360.40" x2="651.00" y2="363.80" stroke="#222" stroke-width="0.7" />
<line x1="648.75" y1="360.40" x2="653.25" y2="360.40" stroke="#222" stroke-width="0.7" />
<ellipse cx="651.90" cy="360.40" rx="1.3" ry="0.85" fill="#333"/>
<g transform="translate(424.20,380.60) rotate(-43)">
<text x="0.00" y="1.45" font-size="4.9" text-anchor="end" fill="#2a2a2a" textLength="21.30" lengthAdjust="spacingAndGlyphs"  stroke="#2a2a2a" stroke-width="0.16">Controls</text>
</g>
<g transform="translate(447.00,380.60) rotate(-43)">
<text x="0.00" y="1.45" font-size="4.9" text-anchor="end" fill="#2a2a2a" textLength="21.30" lengthAdjust="spacingAndGlyphs"  stroke="#2a2a2a" stroke-width="0.16">classical</text>
<g transform="translate(-26.70,1.50) scale(0.9)" fill="none" stroke="#2a2a2a" stroke-width="0.85"><circle cx="1.7" cy="-1.6" r="1.3"/><path d="M1.7,-3 L1.7,-5.2 M0.5,-4.2 L1.7,-5.4 L2.9,-4.2"/></g>
<text x="-42.30" y="1.45" font-size="4.9" text-anchor="start" fill="#2a2a2a" textLength="12.60" lengthAdjust="spacingAndGlyphs"  stroke="#2a2a2a" stroke-width="0.16">Fabry</text>
</g>
<g transform="translate(469.80,380.60) rotate(-43)">
<text x="0.00" y="1.45" font-size="4.9" text-anchor="end" fill="#2a2a2a" textLength="19.80" lengthAdjust="spacingAndGlyphs"  stroke="#2a2a2a" stroke-width="0.16">cardiac</text>
<g transform="translate(-25.20,1.50) scale(0.9)" fill="none" stroke="#2a2a2a" stroke-width="0.85"><circle cx="1.7" cy="-1.6" r="1.3"/><path d="M1.7,-3 L1.7,-5.2 M0.5,-4.2 L1.7,-5.4 L2.9,-4.2"/></g>
<text x="-40.80" y="1.45" font-size="4.9" text-anchor="start" fill="#2a2a2a" textLength="12.60" lengthAdjust="spacingAndGlyphs"  stroke="#2a2a2a" stroke-width="0.16">Fabry</text>
</g>
<g transform="translate(492.60,380.60) rotate(-43)">
<text x="0.00" y="1.45" font-size="4.9" text-anchor="end" fill="#2a2a2a" textLength="18.60" lengthAdjust="spacingAndGlyphs"  stroke="#2a2a2a" stroke-width="0.16">variant</text>
<g transform="translate(-24.00,1.50) scale(0.9)" fill="none" stroke="#2a2a2a" stroke-width="0.85"><circle cx="1.7" cy="-1.6" r="1.3"/><path d="M1.7,-3 L1.7,-5.2 M0.5,-4.2 L1.7,-5.4 L2.9,-4.2"/></g>
<text x="-39.60" y="1.45" font-size="4.9" text-anchor="start" fill="#2a2a2a" textLength="12.60" lengthAdjust="spacingAndGlyphs"  stroke="#2a2a2a" stroke-width="0.16">Fabry</text>
</g>
<g transform="translate(515.40,380.60) rotate(-43)">
<text x="0.00" y="1.45" font-size="4.9" text-anchor="end" fill="#2a2a2a" textLength="21.30" lengthAdjust="spacingAndGlyphs"  stroke="#2a2a2a" stroke-width="0.16">classical</text>
<g transform="translate(-26.70,1.50) scale(0.9)" fill="none" stroke="#2a2a2a" stroke-width="0.85"><circle cx="1.7" cy="-3.4" r="1.3"/><path d="M1.7,-2 L1.7,0.8 M0.5,-0.5 L2.9,-0.5"/></g>
<text x="-42.30" y="1.45" font-size="4.9" text-anchor="start" fill="#2a2a2a" textLength="12.60" lengthAdjust="spacingAndGlyphs"  stroke="#2a2a2a" stroke-width="0.16">Fabry</text>
</g>
<g transform="translate(538.20,380.60) rotate(-43)">
<text x="0.00" y="1.45" font-size="4.9" text-anchor="end" fill="#2a2a2a" textLength="19.80" lengthAdjust="spacingAndGlyphs"  stroke="#2a2a2a" stroke-width="0.16">cardiac</text>
<g transform="translate(-25.20,1.50) scale(0.9)" fill="none" stroke="#2a2a2a" stroke-width="0.85"><circle cx="1.7" cy="-3.4" r="1.3"/><path d="M1.7,-2 L1.7,0.8 M0.5,-0.5 L2.9,-0.5"/></g>
<text x="-40.80" y="1.45" font-size="4.9" text-anchor="start" fill="#2a2a2a" textLength="12.60" lengthAdjust="spacingAndGlyphs"  stroke="#2a2a2a" stroke-width="0.16">Fabry</text>
</g>
<g transform="translate(561.00,380.60) rotate(-43)">
<text x="0.00" y="1.45" font-size="4.9" text-anchor="end" fill="#2a2a2a" textLength="18.60" lengthAdjust="spacingAndGlyphs"  stroke="#2a2a2a" stroke-width="0.16">variant</text>
<g transform="translate(-24.00,1.50) scale(0.9)" fill="none" stroke="#2a2a2a" stroke-width="0.85"><circle cx="1.7" cy="-3.4" r="1.3"/><path d="M1.7,-2 L1.7,0.8 M0.5,-0.5 L2.9,-0.5"/></g>
<text x="-39.60" y="1.45" font-size="4.9" text-anchor="start" fill="#2a2a2a" textLength="12.60" lengthAdjust="spacingAndGlyphs"  stroke="#2a2a2a" stroke-width="0.16">Fabry</text>
</g>
<g transform="translate(583.80,380.60) rotate(-43)">
<text x="0.00" y="1.45" font-size="4.9" text-anchor="end" fill="#2a2a2a" textLength="21.00" lengthAdjust="spacingAndGlyphs"  stroke="#2a2a2a" stroke-width="0.16">Gaucher</text>
</g>
<g transform="translate(606.60,380.60) rotate(-43)">
<text x="0.00" y="1.45" font-size="4.9" text-anchor="end" fill="#2a2a2a" textLength="17.80" lengthAdjust="spacingAndGlyphs"  stroke="#2a2a2a" stroke-width="0.16">Krabbe</text>
</g>
<g transform="translate(629.40,380.60) rotate(-43)">
<text x="0.00" y="1.45" font-size="4.9" text-anchor="end" fill="#2a2a2a" textLength="44.00" lengthAdjust="spacingAndGlyphs"  stroke="#2a2a2a" stroke-width="0.16">Niemann-Pick A/B</text>
</g>
<g transform="translate(652.20,380.60) rotate(-43)">
<text x="0.00" y="1.45" font-size="4.9" text-anchor="end" fill="#2a2a2a" textLength="38.60" lengthAdjust="spacingAndGlyphs"  stroke="#2a2a2a" stroke-width="0.16">Niemann-Pick C</text>
</g>
<g transform="translate(675.00,380.60) rotate(-43)">
<text x="0.00" y="1.45" font-size="4.9" text-anchor="end" fill="#2a2a2a" textLength="47.60" lengthAdjust="spacingAndGlyphs"  stroke="#2a2a2a" stroke-width="0.16">GM1 gangliosidosis</text>
</g>
<g transform="translate(697.80,380.60) rotate(-43)">
<text x="0.00" y="1.45" font-size="4.9" text-anchor="end" fill="#2a2a2a" textLength="23.30" lengthAdjust="spacingAndGlyphs"  stroke="#2a2a2a" stroke-width="0.16">Sandhoff</text>
</g>
<g transform="translate(720.60,380.60) rotate(-43)">
<text x="0.00" y="1.45" font-size="4.9" text-anchor="end" fill="#2a2a2a" textLength="25.00" lengthAdjust="spacingAndGlyphs"  stroke="#2a2a2a" stroke-width="0.16">Tay-Sachs</text>
</g>
</svg>
</body></html>
